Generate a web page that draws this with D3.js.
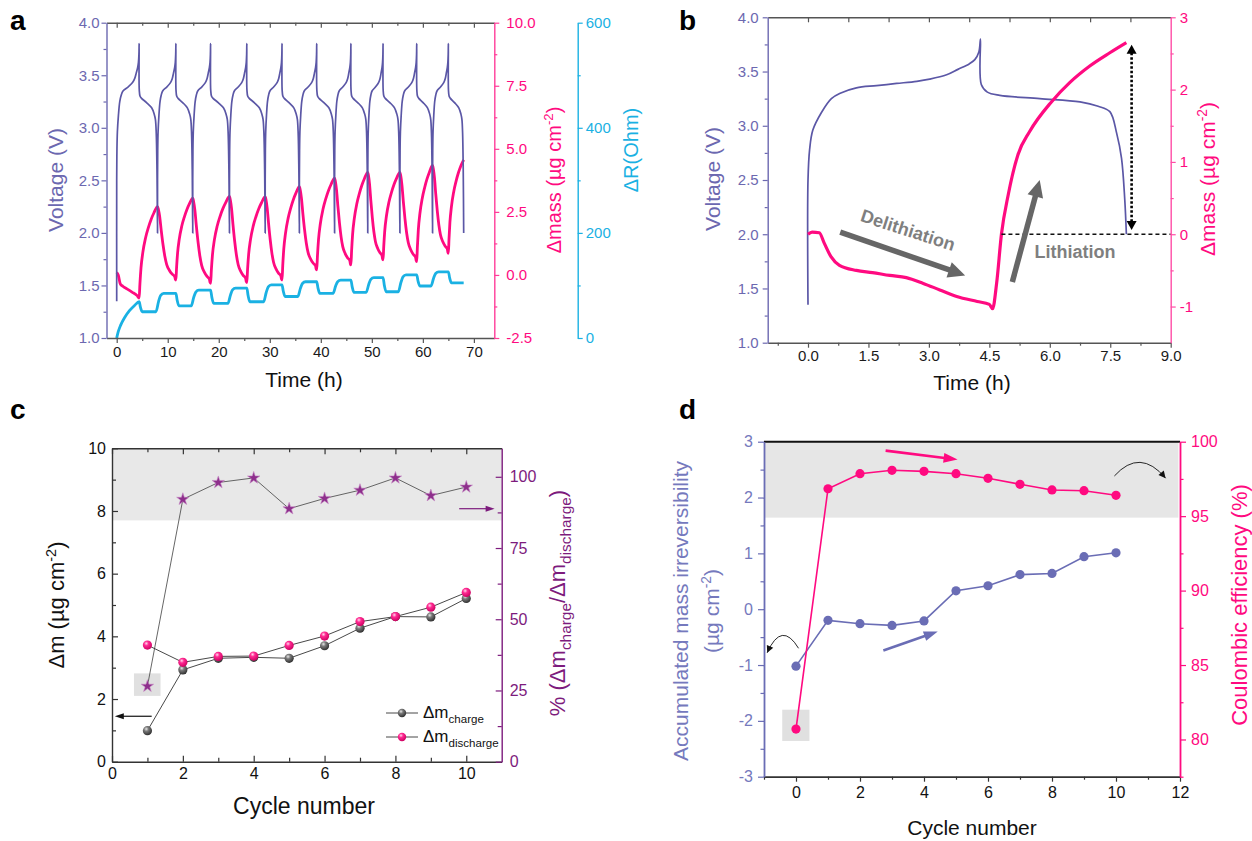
<!DOCTYPE html>
<html><head><meta charset="utf-8">
<script src="https://cdn.jsdelivr.net/npm/d3@7"></script>
<style>
body{margin:0;background:#fff}
svg{display:block}
text{font-family:"Liberation Sans",Arial,sans-serif}
</style>
</head><body>
<svg id="chart" width="1252" height="841"></svg>
<script>
// ================= DATA =================
// ---- panel a : long-term cycling ----
const aPeakTimes = [4.4, 11.6, 18.4, 25.5, 32.4, 39.2, 45.9, 52.2, 58.8, 65.0];   // end of charge (V max)
const aMinTimes  = [8.0, 14.9, 22.1, 29.1, 35.8, 42.7, 49.2, 55.5, 61.9, 68.0];   // end of discharge (V min)
const aChargeShape = [[0,2.5],[0.01,2.78],[0.03,2.96],[0.077,3.12],[0.136,3.25],[0.2,3.31],[0.28,3.35],[0.514,3.39],[0.706,3.43],[0.804,3.47],[0.869,3.52],[0.93,3.57],[0.967,3.62],[0.99,3.70],[1.0,3.80]];
const aDischargeShape = [[0.006,3.36],[0.05,3.30],[0.13,3.28],[0.403,3.24],[0.68,3.19],[0.82,3.13],[0.884,3.08],[0.93,2.95],[0.97,2.6],[1.0,2.0]];
const aVoltStart = [[0,1.35]];
const aMassFirst = [[0,0.1],[0.3,0.0],[0.7,-0.35],[1.2,-0.45],[2.0,-0.55],[3.0,-0.68],[4.0,-0.82],[4.4,-0.92]];
const aMassTrough = [-0.92,-0.2,-0.33,-0.3,-0.2,0.2,0.4,0.6,0.53,0.86];
const aMassPeak   = [2.71,3.04,3.11,3.1,3.5,3.84,4.07,4.07,4.34,4.56];
const aMassRiseShape = [[0,0],[0.04,0.15],[0.1,0.33],[0.2,0.5],[0.35,0.66],[0.5,0.77],[0.65,0.86],[0.8,0.93],[1,1]];
const aMassFallShape = [[0,0],[0.05,0.04],[0.12,0.14],[0.2,0.32],[0.3,0.52],[0.4,0.68],[0.5,0.79],[0.65,0.87],[0.8,0.92],[0.93,0.95],[0.97,0.99],[1,1]];
const aRFirst = [[0,0],[0.3,12],[0.8,25],[1.5,38],[2.5,52],[3.5,62],[4.4,69]];
const aRLow  = [50,61,66,69,79,85,87,88,99,105];
const aRHigh = [85,91,95,101,107,110,115,120,126];
const aRRiseShape = [[-0.3,0],[0.2,0.55],[0.6,0.88],[1.2,1]];   // hours after V min, fraction of step
const aRDropShape = [[0,0],[0.25,0.55],[0.6,1]];                 // hours after V max, fraction of step
const aTimeTicks = [0,10,20,30,40,50,60,70];
const aTimeMinor = [5,15,25,35,45,55,65];
const aVoltTicks = [1.0,1.5,2.0,2.5,3.0,3.5,4.0];
const aVoltMinor = [1.25,1.75,2.25,2.75,3.25,3.75];
const aMassTicks = [-2.5,0,2.5,5,7.5,10];
const aMassMinor = [-1.25,1.25,3.75,6.25,8.75];
const aRTicks = [0,200,400,600];
const aRMinor = [100,300,500];

// ---- panel b : first cycle ----
const bVoltage = [[0,1.35],[0,2.5],[0.04,2.78],[0.12,2.96],[0.33,3.12],[0.58,3.25],[0.8,3.3],[1.2,3.35],[1.7,3.37],[2.2,3.39],[2.7,3.41],[3.02,3.43],[3.44,3.47],[3.72,3.52],[4.0,3.57],[4.14,3.61],[4.24,3.68],[4.28,3.80],[4.30,3.38],[4.45,3.31],[4.76,3.28],[5.75,3.25],[6.75,3.22],[7.2,3.18],[7.49,3.13],[7.66,2.93],[7.78,2.7],[7.86,2.32],[7.9,2.0]];
const bMass = [[0,0.0],[0.1,0.03],[0.28,0.02],[0.4,-0.12],[0.57,-0.31],[0.78,-0.43],[1.2,-0.5],[1.6,-0.53],[2.03,-0.57],[2.44,-0.6],[2.86,-0.68],[3.27,-0.77],[3.69,-0.86],[4.2,-0.93],[4.5,-0.97],[4.58,-1.03],[4.68,-0.68],[4.8,0],[4.97,0.55],[5.21,1.1],[5.5,1.42],[6.04,1.83],[6.5,2.1],[7.0,2.33],[7.49,2.51],[7.9,2.65]];
const bTimeTicks = [0,1.5,3.0,4.5,6.0,7.5,9.0];
const bTimeMinor = [-0.75,0.75,2.25,3.75,5.25,6.75,8.25];
const bTopTicks = [0,1,2,3,4,5,6,7,8];
const bVoltTicks = [1.0,1.5,2.0,2.5,3.0,3.5,4.0];
const bVoltMinor = [1.25,1.75,2.25,2.75,3.25,3.75];
const bMassTicks = [-1,0,1,2,3];
const bMassMinor = [-0.5,0.5,1.5,2.5];
const bZeroLine = [[4.8,0],[9.0,0]];
const bSpanArrow = [[8.03,2.62],[8.03,0.06]];
const bDelithArrow = [[0.8,2.02],[3.9,1.62]];   // (time, voltage)
const bLithArrow = [[5.07,1.56],[5.75,2.5]];

// ---- panel c : mass change per cycle ----
const cCycles = [1,2,3,4,5,6,7,8,9,10];
const cCharge    = [0.99,2.93,3.30,3.33,3.30,3.70,4.26,4.63,4.62,5.21];
const cDischarge = [3.72,3.17,3.36,3.37,3.71,4.01,4.47,4.63,4.93,5.40];
const cRatio     = [26.5,92.1,98.0,99.6,88.8,92.4,95.3,99.6,93.4,96.4];
const cXTicks = [0,2,4,6,8,10];
const cXMinor = [1,3,5,7,9];
const cYTicks = [0,2,4,6,8,10];
const cYMinor = [1,3,5,7,9];
const cRTicks = [0,25,50,75,100];
const cRMinor = [12.5,37.5,62.5,87.5];
const cBandFrom = 84.7;                 // % axis
const cBox = [[0.62,23.1],[1.37,31.0]];  // cycle, %
const cLeftArrow = [[1.12,1.45],[0.08,1.45]];
const cRightArrow = [[9.8,88.8],[10.8,88.8]];

// ---- panel d : irreversibility & coulombic efficiency ----
const dCycles = [0,1,2,3,4,5,6,7,8,9,10];
const dIrrev = [-1.02,-0.20,-0.26,-0.29,-0.21,0.33,0.42,0.62,0.64,0.94,1.01];
const dCE    = [80.7,96.84,97.85,98.08,98.01,97.85,97.54,97.14,96.76,96.71,96.40];
const dXTicks = [0,2,4,6,8,10,12];
const dXMinor = [-1,1,3,5,7,9,11];
const dYTicks = [-3,-2,-1,0,1,2,3];
const dYMinor = [-2.5,-1.5,-0.5,0.5,1.5,2.5];
const dRTicks = [80,85,90,95,100];
const dRMinor = [77.5,82.5,87.5,92.5,97.5];
const dBandFrom = 94.9;                 // CE axis
const dBox = [[-0.43,79.9],[0.42,82.0]];
const dPinkArrow = [[2.8,99.4],[5.05,98.8]];   // (cycle, CE)
const dBlueArrow = [[2.73,-0.74],[4.43,-0.4]];  // (cycle, irrev)

// ================= DRAWING =================
const svg = d3.select('#chart');
svg.append('rect').attr('width',1252).attr('height',841).attr('fill','#fff');
const defs = svg.append('defs');

const PURPLE = '#5b57a6', PURPLE_T = '#6c68b0', PINK = '#ff0a80', CYAN = '#1ab1e3', DARK = '#333';
const CPURP = '#7d1b7d', DBLUE = '#6a6db5', DBLUE_T = '#7579bd';

function axis(g, gen, tx, ty, o) {
  const a = g.append('g').attr('transform', `translate(${tx},${ty})`).call(gen);
  a.attr('font-family', null).attr('font-size', null);
  a.select('.domain').attr('stroke', o.color).attr('stroke-width', o.lw || 1.4);
  if (o.noDomain) a.select('.domain').remove();
  a.selectAll('.tick line').attr('stroke', o.color).attr('stroke-width', o.tw || 1.2);
  a.selectAll('.tick text').attr('fill', o.text || o.color).style('font-size', (o.fs || 15) + 'px');
  return a;
}
function axisSet(g, maker, scale, majors, minors, fmt, tx, ty, o) {
  axis(g, maker(scale).tickValues(majors).tickFormat(fmt).tickSize(o.major).tickSizeOuter(0).tickPadding(o.pad || 3), tx, ty, o);
  if (minors && minors.length)
    axis(g, maker(scale).tickValues(minors).tickFormat(() => '').tickSize(o.minor).tickSizeOuter(0), tx, ty, Object.assign({}, o, {noDomain: true}));
}
const f1 = v => v.toFixed(1), f0 = v => String(v), fn = () => '';

function rich(g, x, y, parts, o) {
  const t = g.append('text').attr('transform', `translate(${x},${y}) rotate(${o.rotate || 0})`)
    .attr('text-anchor', o.anchor || 'middle').attr('fill', o.color || '#000')
    .style('font-size', o.size + 'px').style('font-weight', o.weight || 'normal');
  let shift = 0;
  parts.forEach(p => {
    const s = typeof p === 'string' ? {t: p} : p;
    const target = s.sup ? -0.38 * o.size : s.sub ? 0.28 * o.size : 0;
    const ts = t.append('tspan').text(s.t).attr('dy', target - shift);
    shift = target;
    if (s.sup || s.sub) ts.style('font-size', (o.size * (o.subScale || 0.66)) + 'px');
  });
  return t;
}
function arrow(g, x1, y1, x2, y2, o) {
  const dx = x2 - x1, dy = y2 - y1, L = Math.hypot(dx, dy), ux = dx / L, uy = dy / L;
  const hl = o.headLen, hw = o.headW / 2;
  const bx = x2 - ux * hl, by = y2 - uy * hl;
  g.append('line').attr('x1', x1).attr('y1', y1).attr('x2', bx + ux * 1).attr('y2', by + uy * 1)
    .attr('stroke', o.color).attr('stroke-width', o.width);
  g.append('path').attr('d', `M${x2},${y2} L${bx - uy * hw},${by + ux * hw} L${bx + uy * hw},${by - ux * hw} Z`).attr('fill', o.color);
}
function head(g, x2, y2, ux, uy, hl, hw, color) {
  const bx = x2 - ux * hl, by = y2 - uy * hl;
  g.append('path').attr('d', `M${x2},${y2} L${bx - uy * hw},${by + ux * hw} L${bx + uy * hw},${by - ux * hw} Z`).attr('fill', color);
}

function sphere(id, c0, c1, c2) {
  const rg = defs.append('radialGradient').attr('id', id).attr('cx', '38%').attr('cy', '32%').attr('r', '70%');
  rg.append('stop').attr('offset', '0%').attr('stop-color', c0);
  rg.append('stop').attr('offset', '35%').attr('stop-color', c1);
  rg.append('stop').attr('offset', '100%').attr('stop-color', c2);
}
sphere('gGray', '#e8e8e8', '#7a7a7a', '#2e2e2e');
sphere('gPink', '#ffd9ec', '#ff2a92', '#cc0060');

[['a', 10, 30], ['b', 679, 30], ['c', 10, 419], ['d', 679, 419]].forEach(([t, x, y]) =>
  svg.append('text').attr('x', x).attr('y', y).text(t).style('font-size', '28px').style('font-weight', 'bold').attr('fill', '#000'));

// ---------------- PANEL A ----------------
(function () {
  const g = svg.append('g');
  const x = d3.scaleLinear().domain([-2, 74]).range([106.5, 494.3]);
  const yV = d3.scaleLinear().domain([1, 4]).range([338, 22.7]);
  const yM = d3.scaleLinear().domain([-2.5, 10]).range([338, 22.7]);
  const yR = d3.scaleLinear().domain([0, 600]).range([338, 22.7]);

  const volt = aVoltStart.slice();
  aPeakTimes.forEach((tp, i) => {
    const t0 = i === 0 ? 0 : aMinTimes[i - 1];
    aChargeShape.forEach(([f, v]) => volt.push([t0 + f * (tp - t0), v]));
    aDischargeShape.forEach(([f, v]) => volt.push([tp + f * (aMinTimes[i] - tp), v]));
  });
  const mass = aMassFirst.slice();
  aPeakTimes.forEach((tp, i) => {
    const tm = aMinTimes[i], lo = aMassTrough[i], hi = aMassPeak[i];
    aMassRiseShape.slice(1).forEach(([f, s]) => mass.push([tp + f * (tm - tp), lo + s * (hi - lo)]));
    if (i < aPeakTimes.length - 1) {
      const tn = aPeakTimes[i + 1], lon = aMassTrough[i + 1];
      aMassFallShape.slice(1).forEach(([f, s]) => mass.push([tm + f * (tn - tm), hi - s * (hi - lon)]));
    }
  });
  const res = aRFirst.slice();
  aPeakTimes.forEach((tp, i) => {
    const tm = aMinTimes[i], prevHigh = i === 0 ? aRFirst[aRFirst.length - 1][1] : aRHigh[i - 1], low = aRLow[i];
    aRDropShape.slice(1).forEach(([dt, s]) => res.push([tp + dt, prevHigh - s * (prevHigh - low)]));
    if (i < aRHigh.length) {
      aRRiseShape.forEach(([dt, s]) => res.push([tm + dt, low + s * (aRHigh[i] - low)]));
      res.push([aPeakTimes[i + 1], aRHigh[i]]);
    } else {
      res.push([tm, low]);
    }
  });

  g.append('path').datum(res).attr('fill', 'none').attr('stroke', CYAN).attr('stroke-width', 2.8).attr('stroke-linejoin', 'round')
    .attr('d', d3.line().x(d => x(d[0])).y(d => yR(d[1])).curve(d3.curveMonotoneX));
  g.append('path').datum(mass).attr('fill', 'none').attr('stroke', PINK).attr('stroke-width', 2.8).attr('stroke-linejoin', 'round')
    .attr('d', d3.line().x(d => x(d[0])).y(d => yM(d[1])).curve(d3.curveMonotoneX));
  g.append('path').datum(volt).attr('fill', 'none').attr('stroke', PURPLE).attr('stroke-width', 1.7).attr('stroke-linejoin', 'round')
    .attr('d', d3.line().x(d => x(d[0])).y(d => yV(d[1])).curve(d3.curveCatmullRom.alpha(0.5)));

  axisSet(g, d3.axisTop, x, aTimeTicks, aTimeMinor, fn, 0, 22.7, {color: '#555', major: -5, minor: -3});
  axisSet(g, d3.axisBottom, x, aTimeTicks, aTimeMinor, f0, 0, 338, {color: '#555', text: '#1a1a1a', major: 5, minor: 3, pad: 3, fs: 15});
  axisSet(g, d3.axisLeft, yV, aVoltTicks, aVoltMinor, f1, 106.5, 0, {color: PURPLE_T, major: 5, minor: 3, pad: 2, fs: 15});
  axisSet(g, d3.axisRight, yM, aMassTicks, aMassMinor, f1, 494.3, 0, {color: '#ff3d99', text: PINK, major: 5, minor: 3, pad: 7, fs: 15});
  axisSet(g, d3.axisRight, yR, aRTicks, aRMinor, f0, 577.7, 0, {color: CYAN, major: 5, minor: 3, pad: 3, fs: 15});

  rich(g, 63, 180, ['Voltage (V)'], {size: 21, rotate: -90, color: PURPLE_T});
  rich(g, 561, 180, ['\u0394mass (\u00b5g cm', {t: '-2', sup: true}, ')'], {size: 20, rotate: -90, color: PINK});
  rich(g, 638, 150, ['\u0394R(Ohm)'], {size: 20, rotate: -90, color: CYAN});
  rich(g, 304, 387, ['Time (h)'], {size: 21, color: '#111'});
})();

// ---------------- PANEL B ----------------
(function () {
  const g = svg.append('g');
  const x = d3.scaleLinear().domain([-1, 9]).range([767.7, 1170.7]);
  const yV = d3.scaleLinear().domain([1, 4]).range([342.7, 17.3]);
  const yM = d3.scaleLinear().domain([-1.5, 3]).range([342.7, 17.3]);

  g.append('path').datum(bVoltage).attr('fill', 'none').attr('stroke', PURPLE).attr('stroke-width', 1.7)
    .attr('d', d3.line().x(d => x(d[0])).y(d => yV(d[1])).curve(d3.curveCatmullRom.alpha(0.5)));
  g.append('path').datum(bMass).attr('fill', 'none').attr('stroke', PINK).attr('stroke-width', 3.2).attr('stroke-linejoin', 'round')
    .attr('d', d3.line().x(d => x(d[0])).y(d => yM(d[1])).curve(d3.curveMonotoneX));

  g.append('line').attr('x1', x(bZeroLine[0][0])).attr('x2', x(bZeroLine[1][0])).attr('y1', yM(bZeroLine[0][1])).attr('y2', yM(bZeroLine[1][1]))
    .attr('stroke', '#111').attr('stroke-width', 1.3).attr('stroke-dasharray', '4,3');
  {
    const xs = x(bSpanArrow[0][0]), y1 = yM(bSpanArrow[0][1]), y2 = yM(bSpanArrow[1][1]);
    g.append('line').attr('x1', xs).attr('x2', xs).attr('y1', y1 + 8).attr('y2', y2 - 8)
      .attr('stroke', '#000').attr('stroke-width', 2.6).attr('stroke-dasharray', '2.5,2');
    head(g, xs, y1, 0, -1, 9, 5, '#000');
    head(g, xs, y2, 0, 1, 9, 5, '#000');
  }
  arrow(g, x(bDelithArrow[0][0]), yV(bDelithArrow[0][1]), x(bDelithArrow[1][0]), yV(bDelithArrow[1][1]), {color: '#666', width: 5.5, headLen: 17, headW: 16});
  arrow(g, x(bLithArrow[0][0]), yV(bLithArrow[0][1]), x(bLithArrow[1][0]), yV(bLithArrow[1][1]), {color: '#666', width: 5.5, headLen: 17, headW: 16});
  g.append('text').attr('transform', 'translate(906,236) rotate(18)').attr('text-anchor', 'middle')
    .style('font-size', '18px').style('font-weight', 'bold').attr('fill', '#7f7f7f').text('Delithiation');
  g.append('text').attr('x', 1075).attr('y', 258).attr('text-anchor', 'middle')
    .style('font-size', '18px').style('font-weight', 'bold').attr('fill', '#7f7f7f').text('Lithiation');

  axisSet(g, d3.axisTop, x, bTopTicks, [], fn, 0, 17.3, {color: '#555', major: -5, minor: -3});
  axisSet(g, d3.axisBottom, x, bTimeTicks, bTimeMinor, f1, 0, 342.7, {color: '#555', text: '#1a1a1a', major: 5, minor: 3, pad: 3, fs: 15});
  axisSet(g, d3.axisLeft, yV, bVoltTicks, bVoltMinor, f1, 767.7, 0, {color: PURPLE_T, major: 5, minor: 3, pad: 4, fs: 15});
  axisSet(g, d3.axisRight, yM, bMassTicks, bMassMinor, f0, 1170.7, 0, {color: '#ff4da6', text: PINK, major: 5, minor: 3, pad: 4, fs: 15});

  rich(g, 720, 179, ['Voltage (V)'], {size: 21, rotate: -90, color: PURPLE_T});
  rich(g, 1215, 179, ['\u0394mass (\u00b5g cm', {t: '-2', sup: true}, ')'], {size: 21, rotate: -90, color: PINK});
  rich(g, 972, 390, ['Time (h)'], {size: 21, color: '#111'});
})();

// ---------------- PANEL C ----------------
(function () {
  const g = svg.append('g');
  const x = d3.scaleLinear().domain([0, 11]).range([112, 501.7]);
  const yL = d3.scaleLinear().domain([0, 10]).range([761.7, 448.3]);
  const yR = d3.scaleLinear().domain([0, 110]).range([761.7, 448.3]);

  g.append('rect').attr('x', x(0)).attr('width', x(11) - x(0)).attr('y', yR(110)).attr('height', yR(cBandFrom) - yR(110)).attr('fill', '#e8e8e8');
  g.append('rect').attr('x', x(cBox[0][0])).attr('width', x(cBox[1][0]) - x(cBox[0][0]))
    .attr('y', yR(cBox[1][1])).attr('height', yR(cBox[0][1]) - yR(cBox[1][1])).attr('fill', '#e0e0e0');

  const lineL = d3.line().x((d, i) => x(cCycles[i])).y(d => yL(d));
  g.append('path').datum(cRatio).attr('fill', 'none').attr('stroke', '#555').attr('stroke-width', 0.9)
    .attr('d', d3.line().x((d, i) => x(cCycles[i])).y(d => yR(d)));
  g.append('path').datum(cCharge).attr('fill', 'none').attr('stroke', '#333').attr('stroke-width', 0.9).attr('d', lineL);
  g.append('path').datum(cDischarge).attr('fill', 'none').attr('stroke', '#333').attr('stroke-width', 0.9).attr('d', lineL);

  g.selectAll('.ch').data(cCharge).enter().append('circle').attr('cx', (d, i) => x(cCycles[i])).attr('cy', d => yL(d)).attr('r', 4.6).attr('fill', 'url(#gGray)');
  g.selectAll('.dc').data(cDischarge).enter().append('circle').attr('cx', (d, i) => x(cCycles[i])).attr('cy', d => yL(d)).attr('r', 4.6).attr('fill', 'url(#gPink)');
  const star = d3.symbol().type(d3.symbolStar).size(48);
  g.selectAll('.st').data(cRatio).enter().append('path').attr('d', star)
    .attr('transform', (d, i) => `translate(${x(cCycles[i])},${yR(d)})`).attr('fill', '#8e2f8c').attr('stroke', '#c78bc6').attr('stroke-width', 0.6);

  arrow(g, x(cLeftArrow[0][0]), yL(cLeftArrow[0][1]), x(cLeftArrow[1][0]), yL(cLeftArrow[1][1]), {color: '#111', width: 1.2, headLen: 9, headW: 6});
  arrow(g, x(cRightArrow[0][0]), yR(cRightArrow[0][1]), x(cRightArrow[1][0]), yR(cRightArrow[1][1]), {color: CPURP, width: 1.2, headLen: 9, headW: 6});

  axisSet(g, d3.axisTop, x, cXTicks, cXMinor, fn, 0, 448.3, {color: DARK, major: -6, minor: -4});
  axisSet(g, d3.axisBottom, x, cXTicks, cXMinor, f0, 0, 761.7, {color: DARK, text: '#111', major: -6, minor: -4, pad: 6, fs: 16});
  axisSet(g, d3.axisLeft, yL, cYTicks, cYMinor, f0, 112, 0, {color: DARK, text: '#111', major: -6, minor: -4, pad: 6, fs: 16});
  axisSet(g, d3.axisRight, yR, cRTicks, cRMinor, f0, 501.7, 0, {color: CPURP, major: -6, minor: -4, pad: 8, fs: 16});

  [['gGray', 'charge', 713], ['gPink', 'discharge', 737]].forEach(([grad, sub, yy]) => {
    g.append('line').attr('x1', 386).attr('x2', 418).attr('y1', yy).attr('y2', yy).attr('stroke', '#333').attr('stroke-width', 0.9);
    g.append('circle').attr('cx', 402).attr('cy', yy).attr('r', 4.2).attr('fill', `url(#${grad})`);
    rich(g, 423, yy + 5, ['\u0394m', {t: sub, sub: true}], {size: 17, anchor: 'start', color: '#111', subScale: 0.68});
  });

  rich(g, 64, 605, ['\u0394m (\u00b5g cm', {t: '-2', sup: true}, ')'], {size: 22, rotate: -90, color: '#111'});
  rich(g, 565, 603, ['% (\u0394m', {t: 'charge', sub: true}, '/\u0394m', {t: 'discharge', sub: true}, ')'], {size: 22, rotate: -90, color: CPURP, subScale: 0.7});
  rich(g, 304, 814, ['Cycle number'], {size: 23, color: '#111'});
})();

// ---------------- PANEL D ----------------
(function () {
  const g = svg.append('g');
  const x = d3.scaleLinear().domain([-1, 12]).range([764, 1180]);
  const yL = d3.scaleLinear().domain([-3, 3]).range([776.7, 441.7]);
  const yR = d3.scaleLinear().domain([77.5, 100]).range([776.7, 441.7]);

  g.append('rect').attr('x', x(-1)).attr('width', x(11.95) - x(-1)).attr('y', yR(100)).attr('height', yR(dBandFrom) - yR(100)).attr('fill', '#e6e6e6');
  g.append('rect').attr('x', x(dBox[0][0])).attr('width', x(dBox[1][0]) - x(dBox[0][0]))
    .attr('y', yR(dBox[1][1])).attr('height', yR(dBox[0][1]) - yR(dBox[1][1])).attr('fill', '#e0e0e0');

  g.append('path').datum(dIrrev).attr('fill', 'none').attr('stroke', DBLUE).attr('stroke-width', 1.6)
    .attr('d', d3.line().x((d, i) => x(dCycles[i])).y(d => yL(d)));
  g.append('path').datum(dCE).attr('fill', 'none').attr('stroke', PINK).attr('stroke-width', 1.6)
    .attr('d', d3.line().x((d, i) => x(dCycles[i])).y(d => yR(d)));
  g.selectAll('.bi').data(dIrrev).enter().append('circle').attr('cx', (d, i) => x(dCycles[i])).attr('cy', d => yL(d)).attr('r', 4.6).attr('fill', DBLUE);
  g.selectAll('.pc').data(dCE).enter().append('circle').attr('cx', (d, i) => x(dCycles[i])).attr('cy', d => yR(d)).attr('r', 4.6).attr('fill', PINK);

  arrow(g, x(dPinkArrow[0][0]), yR(dPinkArrow[0][1]), x(dPinkArrow[1][0]), yR(dPinkArrow[1][1]), {color: PINK, width: 2.6, headLen: 14, headW: 10});
  arrow(g, x(dBlueArrow[0][0]), yL(dBlueArrow[0][1]), x(dBlueArrow[1][0]), yL(dBlueArrow[1][1]), {color: DBLUE, width: 2.6, headLen: 14, headW: 10});

  {
    const sx = x(0.08), sy = yL(-0.7), cx = x(-0.45), cy = yL(-0.2), ex = x(-0.9), ey = yL(-0.78);
    g.append('path').attr('d', `M${sx},${sy} Q${cx},${cy} ${ex},${ey}`).attr('fill', 'none').attr('stroke', '#111').attr('stroke-width', 0.9);
    const L = Math.hypot(ex - cx, ey - cy);
    head(g, ex, ey, (ex - cx) / L, (ey - cy) / L, 7, 3.5, '#111');
  }
  {
    const sx = x(9.95), sy = yR(97.7), cx = x(10.75), cy = yR(99.6), ex = x(11.55), ey = yR(97.55);
    g.append('path').attr('d', `M${sx},${sy} Q${cx},${cy} ${ex},${ey}`).attr('fill', 'none').attr('stroke', '#111').attr('stroke-width', 0.9);
    const L = Math.hypot(ex - cx, ey - cy);
    head(g, ex, ey, (ex - cx) / L, (ey - cy) / L, 7, 3.5, '#111');
  }

  g.append('line').attr('x1', 764).attr('x2', 1180).attr('y1', 441.7).attr('y2', 441.7).attr('stroke', '#111').attr('stroke-width', 2);
  axisSet(g, d3.axisBottom, x, dXTicks, dXMinor, f0, 0, 776.7, {color: DARK, text: '#111', major: 5, minor: 3, pad: 5, fs: 16, lw: 1.8});
  axisSet(g, d3.axisLeft, yL, dYTicks, dYMinor, f0, 764, 0, {color: DBLUE, text: DBLUE_T, major: 6, minor: 3.5, pad: 5, fs: 16, lw: 1.8});
  axisSet(g, d3.axisRight, yR, dRTicks, dRMinor, f0, 1180, 0, {color: PINK, major: 6, minor: 3.5, pad: 5, fs: 16, lw: 1.8});

  rich(g, 688, 611, ['Accumulated mass irreversibility'], {size: 21, rotate: -90, color: DBLUE_T});
  rich(g, 719, 611, ['(\u00b5g cm', {t: '-2', sup: true}, ')'], {size: 21, rotate: -90, color: DBLUE_T});
  rich(g, 1247, 605, ['Coulombic efficiency (%)'], {size: 22, rotate: -90, color: PINK});
  rich(g, 972, 835, ['Cycle number'], {size: 21, color: '#111'});
})();
</script>
</body></html>
